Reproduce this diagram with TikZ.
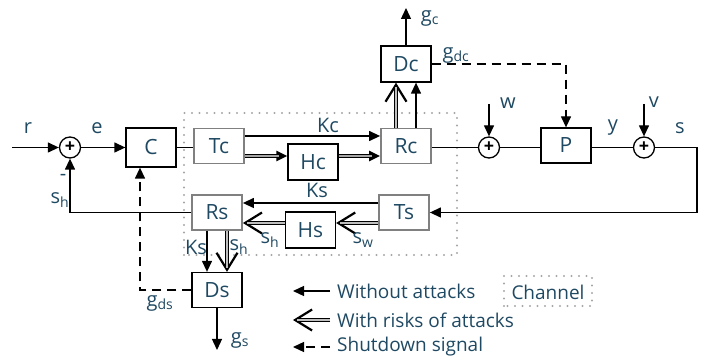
\documentclass[tikz,border=0pt]{standalone}
\usepackage{fontspec}
\setmainfont{Open Sans}
\usetikzlibrary{arrows.meta,calc}
\definecolor{lbl}{RGB}{31,73,98}
\tikzset{
	blk/.style={draw=black, line width=1.3pt, minimum width=50pt, minimum height=35pt, inner sep=0pt, text=lbl, font=\fontsize{21}{21}\selectfont},
	chn/.style={blk, draw=black!50, line width=1.8pt},
	sum/.style={circle, draw=black, line width=1.3pt, minimum size=21pt, inner sep=0pt, font=\fontsize{18}{18}\selectfont\bfseries},
	lab/.style={text=lbl, inner sep=0pt, font=\fontsize{20}{20}\selectfont},
	sig/.style={line width=1.3pt, -{Triangle[length=11pt,width=10pt]}},
	riskfill/.style={draw=black!35, line width=1.8pt, shorten >=8pt, preaction={draw=black, line width=4pt, shorten >=0pt, -{Triangle[length=11pt,width=10pt]}}},
	risk/.style={draw=black!25, line width=1.6pt, shorten >=4pt, preaction={draw=black, line width=3.6pt, shorten >=0pt, -{Straight Barb[length=17pt,width=21pt,line width=2.2pt]}}},
	stop/.style={sig, dash pattern=on 9pt off 6pt},
	chanbox/.style={draw=black!35, line width=2.4pt, line cap=round, dash pattern=on 0pt off 7.5pt},
	leg/.style={lab, anchor=west, font=\fontsize{19}{19}\selectfont},
}

\begin{document}
\begin{tikzpicture}[x=10pt,y=10pt]
		%%%%% START %%%%%
		\useasboundingbox (0,0) rectangle (71.8,35.6);
		
		\draw[chanbox] (18.4,10.1) rectangle (45.7,24.3);
		
		\node[sum] (s1) at (7.0,20.85) {+};
		\node[blk, minimum height=39pt] (C) at (15.1,20.85) {C};
		\node[chn] (Tc) at (21.9,21.0) {Tc};
		\node[blk, minimum height=36pt] (Hc) at (31.3,19.4) {Hc};
		\node[chn] (Rc) at (40.6,21.0) {Rc};
		\node[blk, minimum height=36pt] (Dc) at (40.6,29.2) {Dc};
		\node[sum] (s2) at (48.9,20.85) {+};
		\node[blk] (P) at (56.6,21.05) {P};
		\node[sum] (s3) at (64.4,20.85) {+};
		\node[chn] (Ts) at (40.4,14.35) {Ts};
		\node[blk, minimum height=36pt] (Hs) at (31.05,12.6) {Hs};
		\node[chn] (Rs) at (21.7,14.35) {Rs};
		\node[blk] (Ds) at (21.7,6.6) {Ds};
		
		\coordinate (rin) at (1.2,20.85);
		\coordinate (win) at (48.9,25.2);
		\coordinate (vin) at (64.4,25.2);
		\coordinate (sc) at (69.7,20.85);
		\coordinate (gc) at (40.6,34.8);
		\coordinate (gs) at (21.7,0.6);
		\coordinate (dsc) at (14.0,6.6);
		
		% forward path
		\draw[sig] (rin) -- (s1);
		\draw[sig] (s1) -- (C);
		\draw[line width=1.2pt] (C.east) -- (C.east -| Tc.west);
		\draw[sig] ($(Tc.east)+(0,1)$) -- ($(Rc.west)+(0,1)$);
		\coordinate (t1) at ($(Tc.east)+(0,-1)$);
		\draw[riskfill] (t1) -- (t1 -| Hc.west);
		\draw[riskfill] (t1 -| Hc.east) -- (t1 -| Rc.west);
		\draw[line width=1.2pt] (Rc.east |- s2) -- (s2);
		\draw[line width=1.2pt] (s2) -- (P.west |- s2);
		\draw[line width=1.2pt] (P.east |- s3) -- (s3);
		\draw[sig] (win) -- (s2);
		\draw[sig] (vin) -- (s3);
		
		% detector Dc
		\draw[risk] ($(Rc.north)+(-1,0)$) -- ($(Dc.south)+(-1,0)$);
		\draw[sig] ($(Rc.north)+(1,0)$) -- ($(Dc.south)+(1,0)$);
		\draw[sig] (Dc) -- (gc);
		\draw[stop] (Dc) -| (P);
		
		% feedback path
		\draw[sig] (s3) -- (sc) |- (Ts);
		\draw[sig] ($(Ts.west)+(0,0.95)$) -- ($(Rs.east)+(0,0.95)$);
		\coordinate (t2) at ($(Ts.west)+(0,-1.05)$);
		\draw[risk] (t2) -- (t2 -| Hs.east);
		\draw[risk] (t2 -| Hs.west) -- (t2 -| Rs.east);
		\draw[sig] (Rs) -| (s1);
		
		% detector Ds
		\draw[sig] ($(Rs.south)+(-1,0)$) -- ($(Ds.north)+(-1,0)$);
		\draw[risk] ($(Rs.south)+(1,0)$) -- ($(Ds.north)+(1,0)$);
		\draw[sig] (Ds) -- (gs);
		\draw[stop] (Ds.west) -- (dsc) -- (dsc |- C.south);
		
		% labels
		\node[lab] (lr) at (2.8,22.8) {r};
		\node[lab] (le) at (9.7,22.8) {e};
		\node[lab] (lm) at (6.3,17.9) {-};
		\node[lab] (lsh1) at (6.0,15.6) {s\textsubscript{h}};
		\node[lab] (lkc) at (32.8,23.1) {Kc};
		\node[lab] (lks) at (31.7,16.6) {Ks};
		\node[lab] (lsh2) at (27.0,11.6) {s\textsubscript{h}};
		\node[lab] (lsw) at (36.3,11.6) {s\textsubscript{w}};
		\node[lab] (lks2) at (19.6,10.9) {Ks};
		\node[lab] (lsh3) at (23.9,10.9) {s\textsubscript{h}};
		\node[lab] (lgds) at (16.0,5.3) {g\textsubscript{ds}};
		\node[lab] (lgs) at (24.0,1.6) {g\textsubscript{s}};
		\node[lab] (lgc) at (43.0,33.8) {g\textsubscript{c}};
		\node[lab] (lgdc) at (45.6,30.1) {g\textsubscript{dc}};
		\node[lab] (lw) at (50.8,25.3) {w};
		\node[lab] (lv) at (65.4,25.4) {v};
		\node[lab] (ly) at (61.3,22.8) {y};
		\node[lab] (ls) at (68.0,22.8) {s};
		
		% legend
		\coordinate (a1) at (33.0,6.5);
		\coordinate (b1) at (29.3,6.5);
		\coordinate (a2) at (33.0,3.6);
		\coordinate (b2) at (29.3,3.6);
		\coordinate (a3) at (33.0,0.9);
		\coordinate (b3) at (29.3,0.9);
		\draw[sig] (a1) -- (b1);
		\draw[risk] (a2) -- (b2);
		\draw[stop] (a3) -- (b3);
		\node[leg] (t1) at (33.7,6.5) {Without attacks};
		\node[leg] (t2) at (33.7,3.6) {With risks of attacks};
		\node[leg] (t3) at (33.7,0.95) {Shutdown signal};
		\draw[chanbox] (50.4,5.0) rectangle (59.2,8.0);
		\node[leg, anchor=center] (tch) at (54.8,6.4) {Channel};
		
		%%%%% END %%%%%
	\end{tikzpicture}
\end{document}
